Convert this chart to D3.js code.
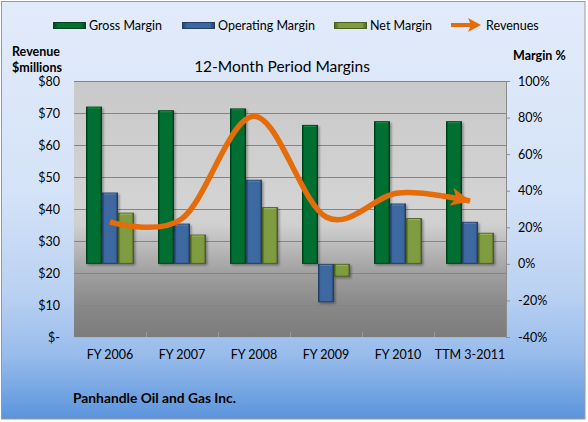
<!DOCTYPE html>
<html>
<head>
<meta charset="utf-8">
<script src="https://cdn.jsdelivr.net/npm/d3@7"></script>
<style>
  body { margin: 0; background: #fff; }
  text { font-family: Lato, "Open Sans", sans-serif; fill: #000; }
</style>
</head>
<body>
<div id="chart"></div>
<script>
let categories = ["FY 2006", "FY 2007", "FY 2008", "FY 2009", "FY 2010", "TTM 3-2011"];
let grossMargin = [86, 84, 85, 76, 78, 78];
let operatingMargin = [39, 22, 46, -21, 33, 23];
let netMargin = [28, 16, 31, -7, 25, 17];
let revenues = [36, 37, 69, 37.5, 45, 42.5];
let revenueTicks = [0, 10, 20, 30, 40, 50, 60, 70, 80];
let marginTicks = [-40, -20, 0, 20, 40, 60, 80, 100];

let series = [
  {name: "Gross Margin", values: grossMargin, color: "#036f31", dark: "#01431c", light: "#1c8a48"},
  {name: "Operating Margin", values: operatingMargin, color: "#3c67a0", dark: "#223f66", light: "#5a82b8"},
  {name: "Net Margin", values: netMargin, color: "#7f9d3f", dark: "#4b5f22", light: "#9ab85a"}
];

let width = 588, height = 422;
let plot = {left: 74, top: 81, right: 506, bottom: 337};

let svg = d3.select("#chart")
    .append("svg")
    .attr("width", width)
    .attr("height", height);

let defs = svg.append("defs");

let bg = defs.append("linearGradient")
    .attr("id", "bg").attr("x1", 0).attr("y1", 0).attr("x2", 0).attr("y2", 1);
[[0, "#e2ebfa"], [0.45, "#d5e3f8"], [0.7, "#bad1f2"], [0.85, "#97bbeb"], [1, "#5a94dc"]]
  .forEach(function(s) { bg.append("stop").attr("offset", s[0]).attr("stop-color", s[1]); });

let plotBg = defs.append("linearGradient")
    .attr("id", "plotbg").attr("x1", 0).attr("y1", 0).attr("x2", 0).attr("y2", 1);
[[0, "#c9c9c9"], [0.48, "#d3d3d3"], [0.56, "#d0d0d0"], [0.75, "#a0a0a0"], [0.88, "#888888"], [1, "#7c7c7c"]]
  .forEach(function(s) { plotBg.append("stop").attr("offset", s[0]).attr("stop-color", s[1]); });

series.forEach(function(s, i) {
  let g = defs.append("linearGradient")
      .attr("id", "bar" + i).attr("x1", 0).attr("y1", 0).attr("x2", 1).attr("y2", 0);
  g.append("stop").attr("offset", 0).attr("stop-color", s.dark);
  g.append("stop").attr("offset", 0.14).attr("stop-color", s.color);
  g.append("stop").attr("offset", 0.86).attr("stop-color", s.color);
  g.append("stop").attr("offset", 1).attr("stop-color", s.dark);
});

defs.append("filter")
    .attr("id", "shadow")
    .attr("x", "-20%").attr("y", "-20%").attr("width", "160%").attr("height", "160%")
    .append("feDropShadow")
    .attr("dx", 1.5).attr("dy", 1.5).attr("stdDeviation", 1)
    .attr("flood-color", "#000").attr("flood-opacity", 0.35);

defs.append("marker")
    .attr("id", "arrow")
    .attr("markerUnits", "userSpaceOnUse")
    .attr("viewBox", "0 0 20 18")
    .attr("refX", 19).attr("refY", 9)
    .attr("markerWidth", 20).attr("markerHeight", 18)
    .attr("orient", "auto")
    .append("path")
    .attr("d", "M0,0 L20,9 L0,18 L5,9 Z")
    .attr("fill", "#e46c0a");

// chart background
svg.append("rect")
    .attr("x", 1.5).attr("y", 1.5)
    .attr("width", 583.5).attr("height", 417.5)
    .attr("fill", "url(#bg)")
    .attr("stroke", "#9a9a9a");

// scales
let x = d3.scaleBand().domain(categories).range([plot.left, plot.right]);
let yRev = d3.scaleLinear().domain([0, 80]).range([plot.bottom, plot.top]);
let yPct = d3.scaleLinear().domain([-40, 100]).range([plot.bottom, plot.top]);
let bandInner = x.bandwidth() * 2 / 3;
let xs = d3.scaleBand().domain(series.map(function(s) { return s.name; })).range([0, bandInner]);

// plot area
svg.append("rect")
    .attr("x", plot.left).attr("y", plot.top)
    .attr("width", plot.right - plot.left).attr("height", plot.bottom - plot.top)
    .attr("fill", "url(#plotbg)");

svg.append("g")
    .selectAll("line")
    .data(revenueTicks.slice(1))
    .enter().append("line")
    .attr("x1", plot.left).attr("x2", plot.right)
    .attr("y1", function(d) { return Math.round(yRev(d)) + 0.5; })
    .attr("y2", function(d) { return Math.round(yRev(d)) + 0.5; })
    .attr("stroke", "#858585");

// small category separators at the bottom
svg.append("g")
    .selectAll("line")
    .data(categories.slice(1))
    .enter().append("line")
    .attr("x1", function(d) { return Math.round(x(d)) + 0.5; })
    .attr("x2", function(d) { return Math.round(x(d)) + 0.5; })
    .attr("y1", plot.bottom - 5).attr("y2", plot.bottom)
    .attr("stroke", "#9a9a9a");

svg.append("line")
    .attr("x1", plot.left).attr("x2", plot.right)
    .attr("y1", plot.bottom + 0.5).attr("y2", plot.bottom + 0.5)
    .attr("stroke", "#a9b8cc");

// bars
series.forEach(function(s, i) {
  let g = svg.append("g").attr("filter", "url(#shadow)");
  let bars = g.selectAll("g")
      .data(s.values.map(function(v, j) { return {cat: categories[j], v: v}; }))
      .enter().append("g");
  let bx = function(d) { return x(d.cat) + (x.bandwidth() - bandInner) / 2 + xs(s.name); };
  let by = function(d) { return yPct(Math.max(0, d.v)); };
  let bh = function(d) { return Math.abs(yPct(d.v) - yPct(0)); };
  bars.append("rect")
      .attr("x", function(d) { return bx(d) + 0.5; })
      .attr("y", function(d) { return by(d) + 0.5; })
      .attr("width", xs.bandwidth() - 1)
      .attr("height", function(d) { return bh(d) - 1; })
      .attr("fill", "url(#bar" + i + ")")
      .attr("stroke", s.dark);
  bars.append("line")
      .attr("x1", function(d) { return bx(d) + 2; })
      .attr("x2", function(d) { return bx(d) + xs.bandwidth() - 2; })
      .attr("y1", function(d) { return by(d) + 1.5; })
      .attr("y2", function(d) { return by(d) + 1.5; })
      .attr("stroke", s.light)
      .attr("stroke-width", 1);
});

// revenue line
let line = d3.line()
    .x(function(d, i) { return x(categories[i]) + x.bandwidth() / 2; })
    .y(function(d) { return yRev(d); })
    .curve(d3.curveCatmullRom.alpha(0));

svg.append("path")
    .datum(revenues)
    .attr("d", line)
    .attr("fill", "none")
    .attr("stroke", "#e46c0a")
    .attr("stroke-width", 5.5)
    .attr("stroke-linecap", "butt")
    .attr("marker-end", "url(#arrow)");

// axes
let leftAxis = svg.append("g")
    .attr("transform", "translate(" + plot.left + ",0)")
    .call(d3.axisLeft(yRev).tickValues(revenueTicks).tickSize(0).tickPadding(14)
      .tickFormat(function(d) { return d === 0 ? "$-" : "$" + d; }));
leftAxis.select(".domain").remove();
leftAxis.selectAll("text").style("font-size", "12.5px").style("font-family", "Lato, sans-serif");

let rightAxis = svg.append("g")
    .attr("transform", "translate(" + plot.right + ",0)")
    .call(d3.axisRight(yPct).tickValues(marginTicks).tickSize(4).tickPadding(8)
      .tickFormat(function(d) { return d + "%"; }));
rightAxis.select(".domain").attr("stroke", "#8c8c8c");
rightAxis.selectAll("line").attr("stroke", "#8c8c8c");
rightAxis.selectAll("text").style("font-size", "12.5px").style("font-family", "Lato, sans-serif");

let bottomAxis = svg.append("g")
    .attr("transform", "translate(0," + plot.bottom + ")")
    .call(d3.axisBottom(x).tickSize(0).tickPadding(13));
bottomAxis.select(".domain").remove();
bottomAxis.selectAll("text").style("font-size", "12.5px").style("font-family", "Lato, sans-serif");

// titles
svg.append("text")
    .attr("x", 282).attr("y", 72)
    .attr("text-anchor", "middle")
    .style("font-size", "15.5px")
    .text("12-Month Period Margins");

svg.append("text")
    .attr("x", 12).attr("y", 56)
    .style("font-size", "12.5px").style("font-weight", "bold")
    .text("Revenue");
svg.append("text")
    .attr("x", 12).attr("y", 72)
    .style("font-size", "12.5px").style("font-weight", "bold")
    .text("$millions");
svg.append("text")
    .attr("x", 513).attr("y", 60)
    .style("font-size", "12.5px").style("font-weight", "bold")
    .text("Margin %");

svg.append("text")
    .attr("x", 73).attr("y", 403)
    .style("font-size", "13.8px").style("font-weight", "bold")
    .text("Panhandle Oil and Gas Inc.");

// legend
let legendItems = [
  {name: "Gross Margin", x: 53, type: 0},
  {name: "Operating Margin", x: 182, type: 1},
  {name: "Net Margin", x: 334, type: 2},
  {name: "Revenues", x: 451, type: 3}
];
let legend = svg.append("g");
legendItems.forEach(function(d) {
  let g = legend.append("g").attr("transform", "translate(" + d.x + ",25)");
  if (d.type < 3) {
    g.append("rect")
        .attr("x", 0.5).attr("y", -2.5)
        .attr("width", 32).attr("height", 6)
        .attr("fill", "url(#bar" + d.type + ")")
        .attr("stroke", series[d.type].dark);
  } else {
    g.append("line")
        .attr("x1", 0).attr("x2", 22).attr("y1", 0).attr("y2", 0)
        .attr("stroke", "#e46c0a").attr("stroke-width", 4);
    g.append("path")
        .attr("d", "M17,-7 L30,0 L17,7 L20,0 Z")
        .attr("fill", "#e46c0a");
  }
  g.append("text")
      .attr("x", d.type < 3 ? 36 : 35).attr("y", 4.5)
      .style("font-size", "12.5px")
      .text(d.name);
});
</script>
</body>
</html>
